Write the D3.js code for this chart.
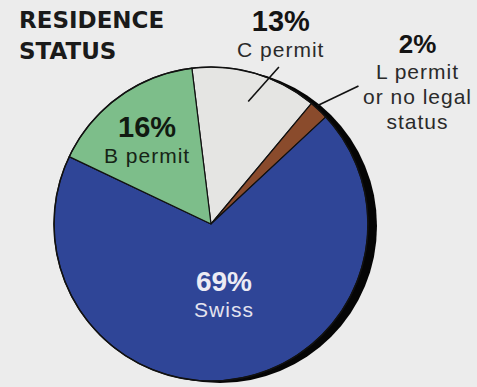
<!DOCTYPE html>
<html>
<head>
<meta charset="utf-8">
<script src="https://cdn.jsdelivr.net/npm/d3@7"></script>
<style>
  html, body { margin: 0; padding: 0; background: #ececec; }
  svg { display: block; }
  text { font-family: "Liberation Sans", Arial, sans-serif; }
  text.title { font-family: "DejaVu Sans", sans-serif; }
</style>
</head>
<body>
<svg id="chart" width="477" height="387"></svg>
<script>
// Residence status shares (percent)
const categories = ["C permit", "L permit", "Swiss", "B permit"];
const labelLines = [["C permit"], ["L permit", "or no legal", "status"], ["Swiss"], ["B permit"]];
const values = [13, 2, 69, 16];
const colors = ["#e5e5e3", "#8a4b2c", "#2f4597", "#7dbe8a"];
const titleLines = ["RESIDENCE", "STATUS"];

const W = 477, H = 387;
const cx = 211, cy = 224, R = 157;
const svg = d3.select("#chart");

svg.append("rect").attr("width", W).attr("height", H).attr("fill", "#ececec");

const start = -7 * Math.PI / 180;
const pie = d3.pie().sort(null).value(d => d).startAngle(start).endAngle(start + 2 * Math.PI);
const arcs = pie(values);
const arc = d3.arc().innerRadius(0).outerRadius(R);

const g = svg.append("g").attr("transform", `translate(${cx},${cy})`);

// drop shadow disc
g.append("circle").attr("cx", 9).attr("cy", 2).attr("r", R).attr("fill", "#050505");

g.selectAll("path.slice").data(arcs).join("path")
  .attr("class", "slice")
  .attr("d", arc)
  .attr("fill", (d, i) => colors[i])
  .attr("stroke", "#111")
  .attr("stroke-width", 1.2)
  .attr("stroke-linejoin", "round");

g.append("circle").attr("r", R).attr("fill", "none").attr("stroke", "#111").attr("stroke-width", 1.5);

const polar = (a, r) => [Math.sin(a) * r, -Math.cos(a) * r];
const mid = d => (d.startAngle + d.endAngle) / 2;

// label anchors: angle offset (deg) and radius relative to slice mid-angle
const anchor = [
  { da: 3.5, r: 205, pctSize: 29, txtSize: 21, pctCol: "#141414", txtCol: "#2a2a2a" },
  { da: 7, r: 268, pctSize: 26, txtSize: 21, pctCol: "#141414", txtCol: "#2a2a2a" },
  { da: -2.2, r: 68, pctSize: 28, txtSize: 21, pctCol: "#ecebf4", txtCol: "#e4e3ef" },
  { da: -0.5, r: 108, pctSize: 29, txtSize: 21, pctCol: "#111a11", txtCol: "#162416" }
];

arcs.forEach((d, i) => {
  const a = anchor[i];
  const [x, y] = polar(mid(d) + a.da * Math.PI / 180, a.r);
  g.append("text").attr("text-anchor", "middle").attr("x", x).attr("y", y)
    .attr("font-weight", 700).attr("font-size", a.pctSize).attr("fill", a.pctCol)
    .text(values[i] + "%");
  labelLines[i].forEach((line, k) => {
    g.append("text").attr("text-anchor", "middle")
      .attr("x", x).attr("y", y + 26 + k * 25)
      .attr("font-size", a.txtSize).attr("letter-spacing", 1).attr("fill", a.txtCol)
      .text(line);
  });
});

// leader lines for the small top slices
const leaders = [
  { i: 0, r0: 128, r1: 171, d0: 0.5, d1: 7 },
  { i: 1, r0: 159, r1: 202, d0: -1.5, d1: 3.5 }
];
leaders.forEach(l => {
  const d = arcs[l.i];
  const p0 = polar(mid(d) + l.d0 * Math.PI / 180, l.r0);
  const p1 = polar(mid(d) + l.d1 * Math.PI / 180, l.r1);
  g.append("line")
    .attr("x1", p0[0]).attr("y1", p0[1]).attr("x2", p1[0]).attr("y2", p1[1])
    .attr("stroke", "#111").attr("stroke-width", 1.6);
});

// title
titleLines.forEach((t, i) => {
  svg.append("text").attr("class", "title").attr("x", 19).attr("y", 28 + i * 31)
    .attr("font-weight", 700).attr("font-size", 23).attr("fill", "#1a1a1a")
    .text(t);
});
</script>
</body>
</html>
